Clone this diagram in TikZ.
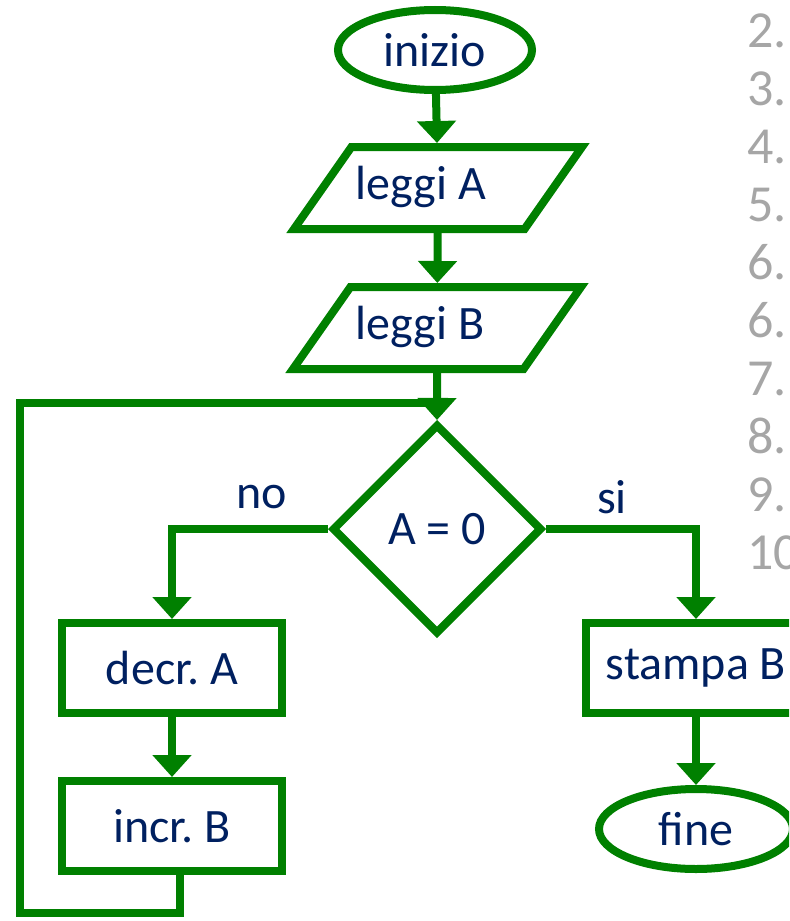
\documentclass[tikz,border=0pt]{standalone}
\usepackage{fontspec}
\setmainfont{Carlito}
\usetikzlibrary{shapes.geometric,arrows.meta}

\definecolor{fcgreen}{RGB}{0,128,0}
\definecolor{fctext}{RGB}{0,32,96}
\definecolor{listgray}{RGB}{166,166,166}

\tikzset{
  base/.style={draw=fcgreen, line width=4pt, text=fctext, font=\fontsize{24}{28}\selectfont, inner sep=0pt},
  terminal/.style={base, ellipse, minimum width=97pt, minimum height=40pt},
  io/.style={base, trapezium, trapezium left angle=55, trapezium right angle=125,
    text height=17pt, text depth=6pt, inner ysep=9pt,
    trapezium stretches body, minimum width=144pt},
  process/.style={base, rectangle, minimum width=110pt, minimum height=45pt},
  decision/.style={base, diamond, minimum width=105pt, minimum height=105pt},
  label/.style={text=fctext, font=\fontsize{24}{28}\selectfont},
  flow/.style={draw=fcgreen, line width=4pt, -{Triangle[width=19pt,length=11pt]}},
  loopline/.style={draw=fcgreen, line width=4pt},
}

\begin{document}
\frenchspacing
\begin{tikzpicture}[x=0.5pt, y=-0.5pt]
    \clip (0,0) rectangle (789,921);

    \node[terminal] (inizio) at (435,50) {inizio};
    \node[io] (leggiA) at (438,188) {leggi A\hspace*{17pt}};
    \node[io] (leggiB) at (437,328) {leggi B\hspace*{17pt}};
    \node[decision] (test) at (437,529) {A = 0};
    \node[process] (decrA) at (172,668) {decr. A};
    \node[process] (incrB) at (172,826) {incr. B};
    \node[process] (stampaB) at (696,668) {stampa B};
    \node[terminal] (fine) at (696,829) {fine};
    \node[label] (no) at (262,497) {no};
    \node[label] (si) at (612,497) {si};

    \coordinate (join) at (437,403);
    \coordinate (corner) at (20,913);

    \draw[flow] (inizio) -- (leggiA);
    \draw[flow] (leggiA) -- (leggiB);
    \draw[flow] (leggiB) -- (test);
    \draw[flow] (test.west) -| (decrA);
    \draw[flow] (test.east) -| (stampaB);
    \draw[flow] (decrA) -- (incrB);
    \draw[flow] (stampaB) -- (fine);
    \draw[loopline] ([xshift=4pt]incrB.south) |- (corner) |- (join);

    % righe della lista a lato
    \foreach \n [count=\i from 0] in {2,3,4,5,6,6,7,8,9,10}
        \node[anchor=base west, inner sep=0pt, text=listgray, font=\fontsize{26}{30}\selectfont]
            (item\i) at (747,47+58*\i) {\n.};
\end{tikzpicture}
\end{document}
